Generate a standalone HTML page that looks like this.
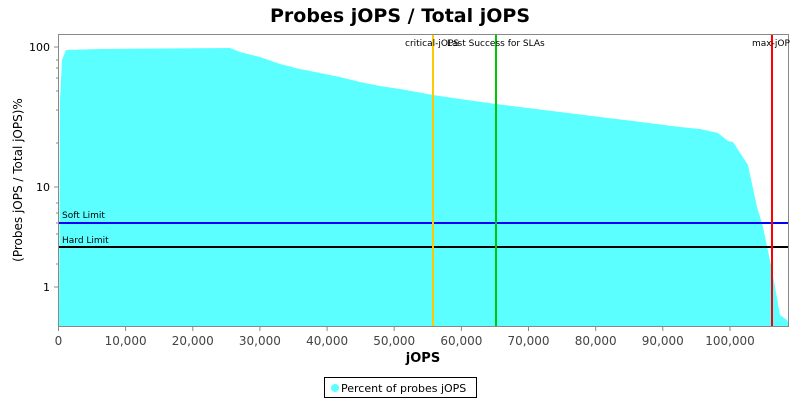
<!DOCTYPE html>
<html><head><meta charset="utf-8"><style>
body{margin:0;background:#fff;width:800px;height:400px;overflow:hidden;font-family:"DejaVu Sans","Liberation Sans",sans-serif}
</style></head><body>
<svg width="800" height="400" xmlns="http://www.w3.org/2000/svg" font-family="DejaVu Sans, Liberation Sans, sans-serif">
<text x="400" y="22" text-anchor="middle" font-size="19" font-weight="bold">Probes jOPS / Total jOPS</text>
<rect x="58" y="34" width="730" height="293" fill="#fff"/>
<polygon fill="#5cffff" points="59,327 60,100 62,60 66,50 100,49 230,48 240,52 260,57 280,64 300,69 320,73 340,77 360,82 380,86 400,89 433,95 460,99 496,104 520,107 560,112 600,117 633,121 680,127 700,129 718,133 728,141 733,142 748,165 757,207 763,227 772,270 780,315 787,320 788,322 788,327"/>
<rect x="58.5" y="34.5" width="730" height="292" fill="none" stroke="#888"/>
<line x1="59" y1="223" x2="788" y2="223" stroke="#0000ff" stroke-width="2"/>
<line x1="59" y1="247" x2="788" y2="247" stroke="#000" stroke-width="2"/>
<line x1="433" y1="35" x2="433" y2="326" stroke="#ffc800" stroke-width="2"/>
<line x1="496" y1="35" x2="496" y2="326" stroke="#00c800" stroke-width="2"/>
<line x1="772" y1="35" x2="772" y2="326" stroke="#ff0000" stroke-width="2"/>
<g font-size="9" fill="#000">
<text x="62" y="218">Soft Limit</text>
<text x="62" y="243">Hard Limit</text>
<text x="405" y="46">critical-jOPS</text>
<text x="447" y="46">Last Success for SLAs</text>
<text x="752" y="46">max-jOP</text>
</g>
<g stroke="#888">
<line x1="54" y1="47" x2="58" y2="47"/><line x1="54" y1="187" x2="58" y2="187"/><line x1="54" y1="287" x2="58" y2="287"/>
<line x1="56" y1="60" x2="58" y2="60"/><line x1="56" y1="68" x2="58" y2="68"/><line x1="56" y1="78" x2="58" y2="78"/><line x1="56" y1="91" x2="58" y2="91"/><line x1="56" y1="110" x2="58" y2="110"/><line x1="56" y1="143" x2="58" y2="143"/>
<line x1="56" y1="203" x2="58" y2="203"/><line x1="56" y1="213" x2="58" y2="213"/><line x1="56" y1="223" x2="58" y2="223"/><line x1="56" y1="234" x2="58" y2="234"/><line x1="56" y1="264" x2="58" y2="264"/>
</g>
<g font-size="11" text-anchor="end"><text x="50" y="51">100</text><text x="50" y="191">10</text><text x="50" y="291">1</text></g>
<text transform="translate(22,180) rotate(-90)" text-anchor="middle" font-size="12">(Probes jOPS / Total jOPS)%</text>
<g stroke="#888">
<line x1="58.5" y1="327" x2="58.5" y2="331"/><line x1="125.6" y1="327" x2="125.6" y2="331"/><line x1="192.8" y1="327" x2="192.8" y2="331"/><line x1="259.9" y1="327" x2="259.9" y2="331"/><line x1="327.1" y1="327" x2="327.1" y2="331"/><line x1="394.2" y1="327" x2="394.2" y2="331"/><line x1="461.4" y1="327" x2="461.4" y2="331"/><line x1="528.5" y1="327" x2="528.5" y2="331"/><line x1="595.7" y1="327" x2="595.7" y2="331"/><line x1="662.8" y1="327" x2="662.8" y2="331"/><line x1="730" y1="327" x2="730" y2="331"/>
</g>
<g font-size="12" text-anchor="middle" fill="#444">
<text x="58.5" y="345">0</text><text x="125.6" y="345">10,000</text><text x="192.8" y="345">20,000</text><text x="259.9" y="345">30,000</text><text x="327.1" y="345">40,000</text><text x="394.2" y="345">50,000</text><text x="461.4" y="345">60,000</text><text x="528.5" y="345">70,000</text><text x="595.7" y="345">80,000</text><text x="662.8" y="345">90,000</text><text x="730" y="345">100,000</text>
</g>
<text x="423" y="362" text-anchor="middle" font-size="13" font-weight="bold">jOPS</text>
<rect x="324.5" y="377.5" width="152" height="20" fill="#fff" stroke="#000"/>
<circle cx="335" cy="388" r="4" fill="#5cffff"/>
<text x="341" y="392" font-size="11">Percent of probes jOPS</text>
</svg>
</body></html>
